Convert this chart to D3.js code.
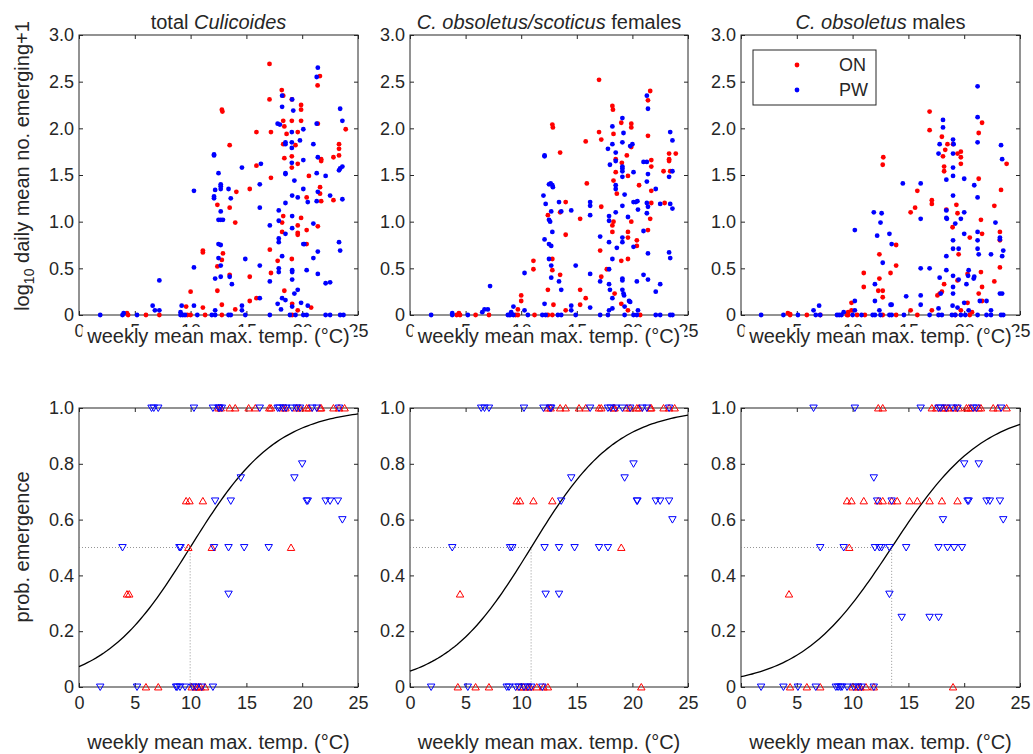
<!DOCTYPE html>
<html><head><meta charset="utf-8">
<script src="https://cdn.jsdelivr.net/npm/d3@7"></script>
<style>body{margin:0;background:#fff}svg{display:block}text{font-family:"Liberation Sans",Arial,sans-serif;fill:#262626}</style>
</head><body><svg id="c" width="1033" height="754"></svg>
<script>
// ---------- data ----------
const xTicks = [0,5,10,15,20,25];
const yTicksTop = [0,0.5,1,1.5,2,2.5,3];
const yTicksBot = [0,0.2,0.4,0.6,0.8,1];
const seriesNames = ["ON","PW"];
const titlesPlain = ["total ","",""];
const titlesItalic = ["Culicoides","C. obsoletus/scoticus","C. obsoletus"];
const titlesTail = [""," females"," males"];
// logistic fits: intercept, slope
const fitA = [-2.54,-2.81,-3.26];
const fitB = [0.255,0.258,0.2415];

const top1ON=[[17.07,2.69],[21.59,2.56],[21.38,2.46],[18.17,2.41],[18.3,2.35],[12.8,2.2],[12.85,2.18],[17.07,2.31],[19.07,2.31],[19.9,2.25],[19.9,2.2],[18.3,2.08],[19.07,2.08],[18.4,2.02],[15.9,1.96],[17.2,1.96],[18.6,1.94],[19.6,1.96],[19.9,2.08],[21.4,2.05],[23.9,1.99],[23.3,1.83],[23.3,1.78],[23.3,1.71],[22.8,1.69],[21.7,1.67],[21.7,1.65],[18.3,1.83],[19.4,1.82],[13.5,1.82],[18.4,1.68],[19.07,1.7],[19.6,1.62],[19.07,1.58],[15.9,1.6],[17.2,1.47],[20.6,1.49],[14.1,1.32],[15.3,1.35],[20.4,1.26],[21.6,1.37],[21.6,1.3],[21.7,1.22],[22.8,1.23],[12.4,1.18],[13.5,1.15],[14.0,0.99],[18.3,1.06],[18.2,0.99],[19.9,1.04],[19.6,0.96],[20.4,0.91],[18.2,0.89],[19.6,0.88],[19.6,0.86],[21.4,0.95],[20.4,0.76],[11.1,0.69],[11.1,0.67],[12.9,0.66],[12.8,0.59],[12.4,0.52],[17.1,0.7],[17.2,0.45],[17.8,0.58],[19.07,0.6],[13.5,0.43],[15.3,0.41],[10.0,0.25],[12.4,0.26],[18.4,0.26],[15.9,0.18],[15.3,0.15],[9.6,0.09],[11.1,0.08],[12.8,0.11],[14.0,0.06],[20.8,0.08],[19.6,0.05],[19.1,0.12],[4.3,0.02],[4.4,0],[6.0,0],[7.2,0],[9.7,0],[10.0,0],[11.3,0],[12.8,0],[19.1,0]];
const top1PW=[[21.4,2.65],[21.3,2.55],[18.2,2.35],[19.1,2.31],[18.2,2.23],[19.2,2.19],[23.4,2.21],[17.8,2.05],[18.0,2.04],[21.3,2.05],[23.6,2.08],[20.1,1.99],[19.07,1.96],[18.5,1.85],[18.5,1.83],[19.07,1.85],[19.07,1.79],[19.8,1.87],[21.0,1.83],[12.1,1.72],[12.1,1.71],[21.4,1.69],[20.1,1.66],[19.07,1.63],[14.6,1.58],[16.3,1.62],[18.5,1.52],[18.5,1.51],[12.5,1.52],[21.3,1.52],[22.1,1.49],[23.3,1.55],[23.4,1.57],[23.6,1.59],[19.3,1.44],[12.7,1.4],[12.7,1.38],[12.7,1.35],[13.4,1.35],[10.3,1.33],[16.2,1.4],[12.2,1.34],[20.1,1.35],[21.4,1.32],[12.1,1.27],[12.1,1.25],[13.6,1.25],[19.1,1.28],[19.6,1.26],[20.5,1.21],[21.3,1.22],[22.5,1.28],[23.6,1.24],[16.2,1.15],[18.5,1.2],[17.9,1.12],[12.7,1.11],[12.5,1.02],[12.7,1.02],[12.9,1.02],[17.9,1.01],[19.1,1.06],[17.1,0.96],[19.1,0.93],[21.0,0.98],[18.5,0.87],[17.9,0.82],[17.9,0.78],[20.1,0.76],[20.2,0.76],[12.5,0.76],[12.7,0.75],[23.3,0.78],[23.4,0.69],[21.4,0.68],[18.2,0.63],[21.0,0.61],[12.5,0.61],[14.9,0.6],[12.7,0.53],[10.3,0.51],[16.2,0.53],[17.9,0.5],[17.9,0.46],[19.1,0.48],[19.1,0.46],[20.4,0.48],[12.2,0.39],[12.7,0.41],[13.5,0.41],[19.1,0.38],[21.4,0.44],[7.2,0.37],[13.7,0.33],[17.1,0.36],[22.1,0.34],[22.5,0.35],[19.6,0.27],[19.3,0.23],[16.2,0.18],[18.2,0.18],[18.5,0.16],[17.8,0.12],[19.1,0.09],[19.9,0.13],[20.5,0.1],[6.6,0.1],[6.8,0.05],[7.2,0.05],[9.2,0.1],[10.3,0.1],[14.6,0.1],[14.6,0.05],[12.2,0.05],[18.1,0.06],[4.0,0.02],[9.1,0.03],[1.9,0],[3.9,0],[5.2,0],[9.1,0],[9.3,0],[9.5,0],[10.6,0],[11.9,0],[12.2,0],[13.4,0],[13.6,0],[14.9,0],[17.1,0],[18.9,0],[19.4,0],[20.1,0],[20.4,0],[22.1,0],[22.5,0],[23.4,0],[23.7,0]];
const top2ON=[[17.0,2.52],[21.6,2.4],[18.2,2.24],[18.25,2.2],[21.4,2.3],[12.8,2.04],[12.85,2.01],[19.0,2.06],[19.9,2.05],[19.9,2.01],[17.0,1.96],[17.2,1.88],[18.3,1.94],[15.8,1.86],[19.9,1.8],[21.4,1.92],[13.5,1.74],[19.5,1.71],[23.9,1.73],[23.3,1.73],[23.3,1.67],[23.3,1.65],[21.7,1.66],[18.5,1.67],[19.05,1.63],[21.7,1.59],[22.8,1.54],[23.4,1.54],[18.5,1.53],[19.6,1.49],[18.3,1.44],[20.6,1.39],[15.9,1.41],[18.6,1.3],[21.7,1.33],[14.0,1.21],[17.2,1.16],[21.7,1.2],[22.9,1.2],[13.5,1.1],[12.4,1.07],[15.3,1.03],[19.9,1.0],[18.3,1.0],[18.2,0.96],[18.2,0.89],[19.6,0.89],[19.6,0.83],[21.6,1.03],[21.4,0.91],[20.4,0.8],[20.4,0.74],[14.0,0.86],[17.1,0.69],[19.6,0.6],[19.0,0.58],[11.1,0.58],[11.1,0.49],[12.8,0.6],[12.8,0.48],[17.7,0.49],[17.2,0.41],[13.5,0.43],[10.0,0.21],[10.0,0.15],[12.4,0.27],[15.3,0.27],[15.8,0.18],[18.4,0.23],[12.9,0.11],[15.3,0.11],[14.0,0.05],[19.0,0.12],[19.6,0.05],[9.7,0.06],[4.4,0.02],[4.2,0],[4.5,0],[5.9,0],[7.1,0],[9.5,0],[9.7,0],[11.2,0],[12.4,0],[12.8,0],[20.7,0]];
const top2PW=[[21.3,2.35],[21.4,2.21],[19.1,2.11],[18.2,2.02],[19.2,1.95],[23.4,1.96],[18.2,1.83],[19.1,1.85],[20.0,1.83],[19.8,1.81],[23.6,1.87],[17.8,1.78],[18.5,1.74],[12.1,1.71],[12.1,1.7],[18.5,1.65],[21.0,1.64],[21.3,1.64],[17.98,1.61],[19.1,1.59],[19.1,1.57],[19.1,1.54],[20.1,1.53],[21.4,1.51],[23.3,1.48],[23.6,1.54],[19.1,1.48],[21.3,1.43],[18.5,1.39],[18.5,1.35],[12.5,1.4],[12.65,1.41],[12.8,1.39],[12.85,1.37],[22.1,1.35],[19.3,1.29],[12.0,1.28],[16.2,1.21],[16.2,1.17],[20.3,1.21],[20.1,1.21],[20.45,1.22],[13.4,1.21],[12.2,1.19],[21.3,1.2],[21.4,1.16],[22.5,1.19],[23.4,1.19],[23.6,1.14],[19.1,1.17],[20.5,1.13],[13.6,1.11],[14.5,1.12],[12.7,1.11],[18.5,1.1],[16.2,1.07],[21.3,1.09],[12.5,1.02],[12.6,1.0],[17.9,1.06],[17.9,1.01],[19.6,1.05],[21.0,0.9],[12.8,0.89],[12.1,0.81],[17.1,0.84],[19.1,0.83],[19.1,0.78],[17.9,0.78],[12.5,0.76],[12.7,0.74],[20.1,0.73],[18.6,0.72],[23.3,0.67],[23.4,0.61],[21.4,0.66],[12.5,0.6],[18.2,0.6],[12.7,0.53],[14.9,0.53],[17.9,0.49],[10.3,0.45],[16.2,0.44],[12.7,0.4],[21.0,0.43],[19.1,0.39],[19.1,0.37],[21.4,0.38],[13.4,0.36],[17.1,0.36],[20.4,0.36],[17.9,0.33],[7.2,0.31],[13.6,0.27],[17.98,0.27],[22.1,0.25],[22.5,0.33],[19.1,0.27],[19.2,0.23],[19.25,0.21],[18.2,0.18],[19.7,0.15],[19.8,0.14],[12.1,0.12],[14.5,0.1],[16.2,0.08],[9.3,0.09],[10.3,0.05],[6.7,0.06],[7.0,0.06],[6.5,0.03],[14.5,0.05],[17.9,0.05],[18.2,0.07],[19.3,0.09],[20.5,0.05],[3.8,0.02],[9.1,0.03],[1.9,0],[3.8,0],[5.2,0],[8.8,0],[9.0,0],[9.3,0],[10.6,0],[11.9,0],[12.2,0],[13.3,0],[13.6,0],[14.9,0],[17.1,0],[17.8,0],[19.3,0],[20.1,0],[20.4,0],[22.1,0],[22.5,0],[23.4,0],[23.6,0]];
const top3ON=[[16.9,2.18],[16.9,1.98],[21.6,2.06],[21.3,1.95],[18.0,1.91],[18.5,1.83],[18.3,1.77],[18.1,1.7],[18.2,1.59],[18.2,1.54],[19.0,1.83],[19.4,1.73],[19.7,1.75],[19.7,1.69],[19.7,1.62],[12.75,1.69],[12.7,1.61],[21.3,1.46],[23.8,1.62],[23.3,1.34],[15.8,1.33],[15.6,1.15],[17.1,1.23],[17.1,1.19],[19.3,1.18],[22.7,1.17],[15.2,1.1],[18.4,1.13],[19.4,1.09],[21.5,1.02],[21.6,0.87],[23.2,0.89],[23.2,0.8],[20.5,0.83],[18.96,0.94],[13.9,0.75],[12.4,0.65],[19.5,0.65],[13.9,0.53],[11.0,0.45],[12.4,0.39],[13.4,0.45],[21.5,0.46],[20.3,0.44],[19.4,0.37],[23.2,0.51],[11.0,0.3],[18.2,0.33],[21.6,0.3],[12.7,0.26],[12.3,0.26],[12.7,0.19],[22.7,0.36],[17.8,0.23],[18.0,0.25],[17.6,0.21],[21.3,0.23],[21.6,0.15],[20.3,0.13],[9.9,0.13],[17.1,0.05],[15.2,0.05],[19.7,0.05],[20.7,0.03],[9.9,0.05],[9.6,0.03],[4.2,0.02],[4.4,0.01],[4.4,0],[5.9,0],[7.1,0],[9.5,0],[9.6,0],[10.4,0],[11.1,0],[12.7,0],[13.9,0],[15.8,0],[19.2,0],[20.5,0]];
const top3PW=[[21.2,2.45],[21.2,2.12],[18.1,2.09],[18.1,2.01],[17.8,1.83],[19.0,1.88],[19.05,1.83],[17.7,1.73],[21.2,1.85],[23.3,1.82],[23.4,1.67],[19.0,1.73],[19.0,1.58],[19.0,1.49],[18.4,1.45],[20.0,1.46],[20.9,1.39],[14.5,1.41],[16.1,1.41],[21.2,1.26],[19.0,1.28],[11.9,1.1],[12.6,1.09],[12.5,0.99],[18.4,1.12],[18.4,1.04],[18.45,1.03],[20.0,1.1],[19.2,0.98],[19.7,1.03],[16.1,1.03],[22.8,0.99],[10.2,0.91],[21.2,0.89],[21.2,0.8],[20.0,0.87],[12.2,0.85],[13.3,0.87],[13.5,0.76],[19.0,0.8],[19.0,0.71],[19.5,0.71],[21.2,0.71],[21.3,0.65],[23.2,0.83],[23.2,0.81],[23.5,0.69],[23.4,0.63],[22.4,0.65],[18.4,0.63],[12.7,0.56],[16.1,0.5],[16.9,0.5],[18.4,0.48],[19.0,0.42],[19.0,0.3],[19.0,0.23],[20.4,0.48],[20.35,0.42],[20.9,0.41],[20.85,0.39],[19.5,0.38],[17.8,0.4],[12.0,0.33],[20.2,0.33],[17.9,0.23],[21.4,0.15],[22.0,0.15],[12.0,0.15],[12.4,0.05],[14.8,0.2],[16.1,0.21],[13.4,0.11],[13.5,0.11],[16.1,0.11],[18.96,0.1],[19.4,0.08],[20.0,0.13],[20.4,0.05],[23.2,0.23],[23.4,0.23],[22.4,0.05],[17.7,0.07],[10.2,0.15],[10.2,0.05],[7.0,0.1],[6.5,0.05],[9.2,0.03],[1.8,0],[3.8,0],[5.1,0],[6.7,0],[7.1,0],[8.6,0],[8.8,0],[9.0,0],[10.0,0],[10.8,0],[11.8,0],[12.0,0],[12.5,0],[13.3,0],[13.5,0],[14.6,0],[16.9,0],[17.7,0],[18.0,0],[18.9,0],[19.2,0],[19.7,0],[20.1,0],[21.2,0],[22.0,0],[22.4,0],[23.3,0],[23.5,0]];

const bot1ON=[[12.5,1],[12.7,1],[13.5,1],[14.0,1],[15.2,1],[15.8,1],[17.05,1],[17.2,1],[18.3,1],[18.5,1],[19.5,1],[19.8,1],[20.4,1],[20.6,1],[21.6,1],[21.7,1],[22.8,1],[23.3,1],[23.8,1],[9.6,0.667],[9.9,0.667],[11.1,0.667],[9.8,0.5],[11.9,0.5],[19.0,0.5],[4.3,0.333],[4.5,0.333],[6.0,0],[7.1,0],[10.1,0],[10.5,0],[10.7,0],[10.9,0],[11.3,0]];
const bot1PW=[[6.5,1],[6.7,1],[7.1,1],[10.3,1],[12.0,1],[12.5,1],[12.6,1],[12.8,1],[16.2,1],[17.8,1],[17.95,1],[18.3,1],[18.55,1],[19.1,1],[19.5,1],[19.8,1],[20.9,1],[21.3,1],[23.3,1],[20.0,0.8],[14.5,0.75],[19.3,0.75],[12.2,0.667],[13.6,0.667],[20.4,0.667],[20.5,0.667],[22.1,0.667],[22.5,0.667],[23.2,0.667],[23.6,0.6],[3.9,0.5],[9.0,0.5],[9.1,0.5],[12.1,0.5],[13.4,0.5],[14.8,0.5],[17.0,0.5],[13.4,0.333],[1.9,0],[5.2,0],[8.7,0],[8.8,0],[9.05,0],[9.5,0],[10.2,0],[10.5,0],[11.0,0],[12.0,0]];
const bot2ON=[[12.4,1],[12.65,1],[13.5,1],[14.0,1],[15.2,1],[15.8,1],[17.0,1],[17.2,1],[18.3,1],[18.4,1],[19.5,1],[19.8,1],[20.4,1],[20.6,1],[21.6,1],[21.7,1],[22.8,1],[23.3,1],[23.8,1],[9.6,0.667],[9.9,0.667],[11.1,0.667],[12.8,0.667],[19.0,0.5],[4.5,0.333],[4.3,0],[5.9,0],[7.1,0],[9.9,0],[10.2,0],[10.6,0],[10.8,0],[11.4,0],[12.0,0],[12.4,0],[20.8,0]];
const bot2PW=[[6.4,1],[6.7,1],[7.1,1],[10.25,1],[12.0,1],[12.6,1],[12.7,1],[16.2,1],[17.8,1],[18.05,1],[18.5,1],[19.1,1],[19.8,1],[20.9,1],[21.3,1],[23.3,1],[20.1,0.8],[14.5,0.75],[19.3,0.75],[13.6,0.667],[20.4,0.667],[20.45,0.667],[22.1,0.667],[22.5,0.667],[23.3,0.667],[23.6,0.6],[3.8,0.5],[9.0,0.5],[9.2,0.5],[12.1,0.5],[13.4,0.5],[14.8,0.5],[17.0,0.5],[17.8,0.5],[12.2,0.333],[13.4,0.333],[1.9,0],[5.2,0],[8.7,0],[8.9,0],[9.5,0],[9.8,0],[10.25,0],[10.6,0],[10.9,0],[11.9,0]];
const bot3ON=[[12.3,1],[12.7,1],[17.1,1],[17.5,1],[18.1,1],[18.3,1],[18.55,1],[19.1,1],[19.5,1],[20.2,1],[20.4,1],[20.6,1],[21.3,1],[21.5,1],[22.6,1],[23.0,1],[23.8,1],[9.5,0.667],[9.9,0.667],[11.0,0.667],[12.3,0.667],[12.7,0.667],[13.5,0.667],[14.0,0.667],[15.1,0.667],[15.8,0.667],[16.9,0.667],[18.0,0.667],[19.4,0.667],[9.7,0.5],[4.3,0.333],[4.4,0],[5.9,0],[7.1,0],[10.0,0],[10.5,0],[10.7,0],[11.2,0],[11.9,0],[19.0,0]];
const bot3PW=[[6.5,1],[10.2,1],[16.1,1],[17.7,1],[17.9,1],[18.4,1],[19.0,1],[19.4,1],[20.8,1],[21.1,1],[23.3,1],[20.0,0.8],[21.3,0.8],[11.9,0.75],[12.2,0.667],[13.5,0.667],[20.3,0.667],[20.4,0.667],[22.0,0.667],[22.3,0.667],[23.2,0.667],[18.1,0.6],[23.5,0.6],[7.1,0.5],[9.2,0.5],[12.0,0.5],[12.4,0.5],[12.6,0.5],[13.3,0.5],[14.8,0.5],[17.7,0.5],[18.5,0.5],[19.1,0.5],[19.8,0.5],[13.3,0.333],[14.4,0.25],[16.9,0.25],[17.7,0.25],[1.8,0],[3.8,0],[5.1,0],[6.7,0],[8.5,0],[8.7,0],[8.9,0],[9.05,0],[9.5,0],[10.1,0],[10.5,0],[10.8,0],[11.9,0]];

const topON=[top1ON,top2ON,top3ON], topPW=[top1PW,top2PW,top3PW];
const botON=[bot1ON,bot2ON,bot3ON], botPW=[bot1PW,bot2PW,bot3PW];

// ---------- layout ----------
const colL=[79,410,741], colW=[279,278,279];
const topRow={t:35,b:315}, botRow={t:408,b:687};
const RED="#ff0000", BLUE="#0000ff", INK="#262626";
const TICKFS="18px", TITLEFS="20px", LABFS="20px";
const svg=d3.select("#c");
const fmt1 = d => d===0 ? "0" : d3.format(".1f")(d);

function frame(g, x, y, yTicks){
  const [x0,x1]=x.range(), [y1,y0]=y.range();
  const ax=g.append("g").attr("transform",`translate(0,${y1})`)
    .call(d3.axisBottom(x).tickValues(xTicks).tickSizeInner(-4).tickSizeOuter(0).tickPadding(9).tickFormat(d3.format("d")));
  const at=g.append("g").attr("transform",`translate(0,${y0})`)
    .call(d3.axisTop(x).tickValues(xTicks).tickSizeInner(-4).tickSizeOuter(0).tickFormat(""));
  const ay=g.append("g").attr("transform",`translate(${x0},0)`)
    .call(d3.axisLeft(y).tickValues(yTicks).tickSizeInner(-4).tickSizeOuter(0).tickPadding(5).tickFormat(fmt1));
  const ar=g.append("g").attr("transform",`translate(${x1},0)`)
    .call(d3.axisRight(y).tickValues(yTicks).tickSizeInner(-4).tickSizeOuter(0).tickFormat(""));
  [ax,at,ay,ar].forEach(a=>{
    a.select(".domain").remove();
    a.selectAll("line").attr("stroke",INK).attr("stroke-width",1);
    a.selectAll("text").attr("fill",INK).style("font-size",TICKFS).style("font-family","'Liberation Sans',Arial,sans-serif");
  });
  g.append("rect").attr("x",x0).attr("y",y0).attr("width",x1-x0).attr("height",y1-y0)
    .attr("fill","none").attr("stroke",INK).attr("stroke-width",1);
}

function xLabel(g,cx,baseline,bgTop){
  const t=g.append("text").attr("x",cx).attr("y",baseline).attr("text-anchor","middle")
    .style("font-size",LABFS).text("weekly mean max. temp. (°C)");
  if(bgTop!=null){
    const bb=t.node().getBBox();
    g.insert("rect",()=>t.node()).attr("x",bb.x-4).attr("y",bgTop).attr("width",bb.width+8).attr("height",bb.y+bb.height-bgTop)
      .attr("fill","#fff");
  }
}

for(let i=0;i<3;i++){
  const x0=colL[i], x1=colL[i]+colW[i], cx=(x0+x1)/2;
  // ---- top row ----
  const gT=svg.append("g");
  const xT=d3.scaleLinear().domain([0,25]).range([x0,x1]);
  const yT=d3.scaleLinear().domain([0,3]).range([topRow.b,topRow.t]);
  frame(gT,xT,yT,yTicksTop);
  const allT=[];
  topON[i].forEach(d=>allT.push([d,RED])); topPW[i].forEach(d=>allT.push([d,BLUE]));
  gT.append("g").selectAll("circle").data(allT).join("circle")
    .attr("cx",d=>xT(d[0][0])).attr("cy",d=>yT(d[0][1])).attr("r",2.4).attr("fill",d=>d[1]);
  const tt=gT.append("text").attr("x",cx).attr("y",29).attr("text-anchor","middle").style("font-size",TITLEFS);
  if(titlesPlain[i]) tt.append("tspan").text(titlesPlain[i]);
  tt.append("tspan").attr("font-style","italic").text(titlesItalic[i]);
  if(titlesTail[i]) tt.append("tspan").text(titlesTail[i]);
  xLabel(gT,cx,343,327);

  // ---- bottom row ----
  const gB=svg.append("g");
  const xB=d3.scaleLinear().domain([0,25]).range([x0,x1]);
  const yB=d3.scaleLinear().domain([0,1]).range([botRow.b,botRow.t]);
  frame(gB,xB,yB,yTicksBot);
  const a=fitA[i], b=fitB[i], x50=-a/b;
  gB.append("path").attr("fill","none").attr("stroke","#7a7a7a").attr("stroke-width",0.8)
    .attr("stroke-dasharray","1,2")
    .attr("d",d3.line()([[xB(0),yB(0.5)],[xB(x50),yB(0.5)],[xB(x50),yB(0)]]));
  const xs=d3.range(0,25.001,0.25);
  gB.append("path").attr("fill","none").attr("stroke","#000").attr("stroke-width",1.3)
    .attr("d",d3.line().x(v=>xB(v)).y(v=>yB(1/(1+Math.exp(-(a+b*v)))))(xs));
  const tri=d3.symbol().type(d3.symbolTriangle).size(24);
  gB.append("g").selectAll("path").data(botON[i]).join("path")
    .attr("d",tri).attr("transform",d=>`translate(${xB(d[0])},${yB(d[1])+0.8})`)
    .attr("fill","none").attr("stroke",RED).attr("stroke-width",1);
  gB.append("g").selectAll("path").data(botPW[i]).join("path")
    .attr("d",tri).attr("transform",d=>`translate(${xB(d[0])},${yB(d[1])-0.8}) rotate(180)`)
    .attr("fill","none").attr("stroke",BLUE).attr("stroke-width",1);
  xLabel(gB,cx,749,null);
}

// y labels
const yl1=svg.append("text").attr("transform","translate(29,166) rotate(-90)").attr("text-anchor","middle").style("font-size","20px");
yl1.append("tspan").text("log");
yl1.append("tspan").attr("dy",5).style("font-size","14px").text("10");
yl1.append("tspan").attr("dy",-5).text(" daily mean no. emerging+1");
svg.append("text").attr("transform","translate(29,547) rotate(-90)").attr("text-anchor","middle").style("font-size","20px").text("prob. emergence");

// legend
const lg=svg.append("g");
lg.append("rect").attr("x",753).attr("y",50).attr("width",123).attr("height",55).attr("fill","#fff").attr("stroke",INK).attr("stroke-width",1);
[[seriesNames[0],RED,65],[seriesNames[1],BLUE,90]].forEach(([n,c,yy])=>{
  lg.append("circle").attr("cx",797).attr("cy",yy).attr("r",2.4).attr("fill",c);
  lg.append("text").attr("x",839).attr("y",yy+6).style("font-size","18px").text(n);
});
</script></body></html>
